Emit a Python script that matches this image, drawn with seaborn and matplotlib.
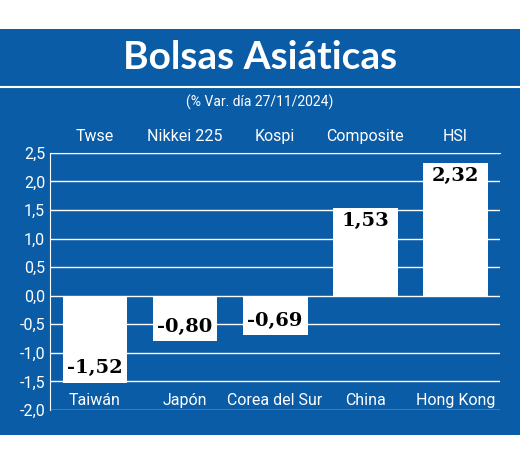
import seaborn as sns
import matplotlib.pyplot as plt
import matplotlib.patches as patches
import pandas as pd

paises = ["Taiwán", "Japón", "Corea del Sur", "China", "Hong Kong"]
indices = ["Twse", "Nikkei 225", "Kospi", "Composite", "HSI"]
variacion = [-1.52, -0.80, -0.69, 1.53, 2.32]
y_ticks = [2.5, 2.0, 1.5, 1.0, 0.5, 0.0, -0.5, -1.0, -1.5, -2.0]

blue = "#0b5ca6"
font = ["Liberation Sans Narrow", "Roboto", "DejaVu Sans"]

df = pd.DataFrame({"pais": paises, "var": variacion})

fig = plt.figure(figsize=(5.2, 4.55), dpi=100)
fig.patch.set_facecolor("white")
fig.patches.append(patches.Rectangle((0, 0.044), 1, 0.892, transform=fig.transFigure,
                                     facecolor=blue, edgecolor="none", zorder=-1))
fig.lines.append(plt.Line2D([0, 1], [0.808, 0.808], transform=fig.transFigure,
                            color="white", lw=1.5))
fig.text(0.5, 0.873, "Bolsas Asiáticas", color="white", ha="center", va="center",
         fontsize=28, fontweight="bold", family=["Lato", "DejaVu Sans"])
fig.text(0.5, 0.775, "(% Var. día 27/11/2024)", color="white", ha="center", va="center",
         fontsize=10, family=font)

ax = fig.add_axes([0.096, 0.099, 0.866, 0.565])
ax.set_facecolor(blue)
sns.barplot(data=df, x="pais", y="var", color="white", width=0.72, saturation=1,
            ax=ax, zorder=3)
ax.set_ylim(-2.0, 2.5)
ax.set_yticks(y_ticks)
ax.set_yticklabels([f"{v:.1f}".replace(".", ",") for v in y_ticks], color="white",
                   fontsize=11.5, family=font)
ax.grid(axis="y", color="white", lw=1, zorder=0)
for s in ["right", "bottom"]:
    ax.spines[s].set_visible(False)
for s in ["left", "top"]:
    ax.spines[s].set_color("white")
ax.tick_params(length=0)
ax.set_xlabel("")
ax.set_ylabel("")
ax.set_xticks(range(len(paises)))
ax.set_xticklabels(paises, color="white", fontsize=11.5, family=font)
ax.tick_params(axis="x", pad=-12)

for i, (idx, v) in enumerate(zip(indices, variacion)):
    ax.text(i, 2.78, idx, color="white", ha="center", va="center", fontsize=11.5, family=font)
    yy = v + 0.25 if v < 0 else v - 0.22
    ax.text(i, yy, f"{v:.2f}".replace(".", ","), ha="center", va="center",
            fontsize=14, fontweight="bold", family=["DejaVu Serif"], zorder=5)

plt.savefig("out.png", dpi=100)
